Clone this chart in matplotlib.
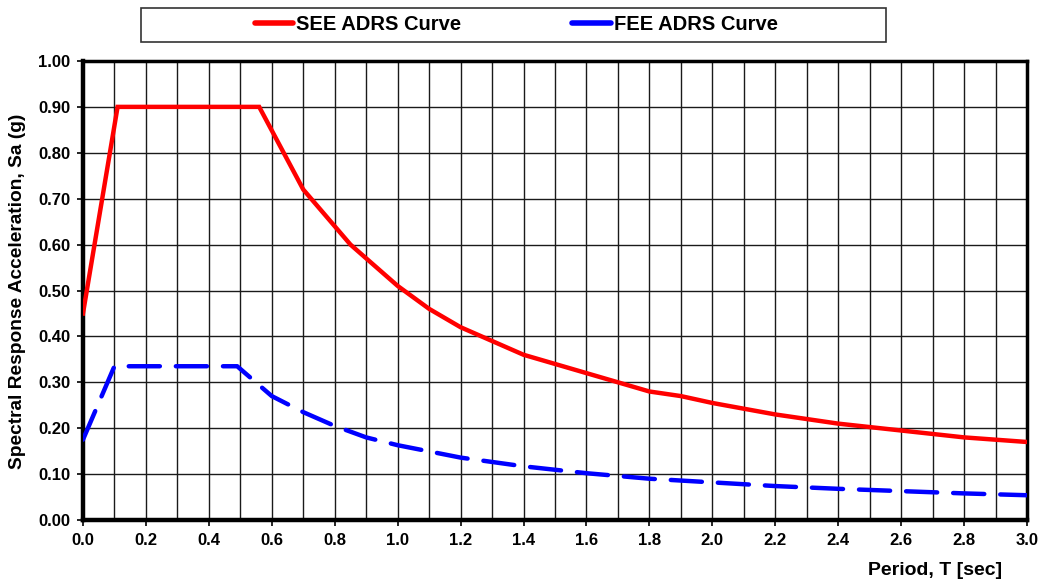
import matplotlib
matplotlib.use("Agg")
import matplotlib.pyplot as plt
from matplotlib.patches import Rectangle
from matplotlib.lines import Line2D
import numpy as np

plt.rcParams['font.family'] = ['Liberation Sans', 'DejaVu Sans']
plt.rcParams['font.weight'] = 'bold'

# SEE ADRS curve
see_T = [0.0, 0.11, 0.56, 0.70, 0.85, 1.0, 1.1, 1.2, 1.3, 1.4, 1.5, 1.6, 1.7, 1.8, 1.9, 2.0, 2.2, 2.4, 2.6, 2.8, 3.0]
see_Sa = [0.45, 0.90, 0.90, 0.72, 0.60, 0.51, 0.46, 0.42, 0.39, 0.36, 0.34, 0.32, 0.30, 0.28, 0.27, 0.255, 0.23, 0.21, 0.195, 0.18, 0.17]

# FEE ADRS curve
fee_T = [0.0, 0.10, 0.49, 0.60, 0.70, 0.80, 0.90, 1.0, 1.2, 1.4, 1.6, 1.8, 2.0, 2.2, 2.4, 2.6, 2.8, 3.0]
fee_Sa = [0.175, 0.335, 0.335, 0.27, 0.235, 0.205, 0.18, 0.163, 0.136, 0.117, 0.102, 0.09, 0.082, 0.074, 0.068, 0.063, 0.058, 0.054]

xticks = [0.0, 0.2, 0.4, 0.6, 0.8, 1.0, 1.2, 1.4, 1.6, 1.8, 2.0, 2.2, 2.4, 2.6, 2.8, 3.0]
yticks = [0.0, 0.1, 0.2, 0.3, 0.4, 0.5, 0.6, 0.7, 0.8, 0.9, 1.0]

fig = plt.figure(figsize=(10.41, 5.88), dpi=100)
ax = fig.add_axes([0.0797, 0.1156, 0.9069, 0.7807])

ax.plot(see_T, see_Sa, color='#ff0000', lw=3.2, solid_joinstyle='miter', zorder=3)
ax.plot(fee_T, fee_Sa, color='#0000ff', lw=3.2, dashes=(7, 3.6), dash_capstyle='round', zorder=3)

ax.set_xlim(0, 3.0)
ax.set_ylim(0, 1.0)
ax.set_xticks(xticks)
ax.set_xticklabels([f"{v:.1f}" for v in xticks])
ax.set_xticks(np.arange(1, 30, 2) / 10.0, minor=True)
ax.set_yticks(yticks)
ax.set_yticklabels([f"{v:.2f}" for v in yticks])
ax.grid(True, which='both', axis='x', color='#1a1a1a', lw=1.0)
ax.grid(True, which='major', axis='y', color='#1a1a1a', lw=1.0)
ax.tick_params(axis='both', which='major', labelsize=12, length=4, width=1.2, direction='out', pad=5)
ax.tick_params(axis='x', which='minor', length=0)
for lbl in ax.get_xticklabels() + ax.get_yticklabels():
    lbl.set_fontweight('bold')
for s in ax.spines.values():
    s.set_linewidth(2.5)
    s.set_color('black')
ax.spines['left'].set_linewidth(3.2)
ax.spines['bottom'].set_linewidth(3.2)

fig.text(0.017, 0.505, 'Spectral Response Acceleration, Sa (g)', rotation=90, ha='center', va='center',
         fontsize=13.8, fontweight='bold')
fig.text(0.9625, 0.016, 'Period, T [sec]', ha='right', va='bottom', fontsize=14, fontweight='bold')

# legend box
fig.add_artist(Rectangle((0.1354, 0.9286), 0.7157, 0.0578, transform=fig.transFigure,
                         facecolor='white', edgecolor='#333333', lw=1.2))
h1 = Line2D([], [], color='#ff0000', lw=4.0, solid_capstyle='round')
h2 = Line2D([], [], color='#0000ff', lw=4.0, solid_capstyle='round')
fig.legend(handles=[h1, h2], labels=['SEE ADRS Curve', 'FEE ADRS Curve'], loc='center',
           bbox_to_anchor=(0.496, 0.9575), ncol=2,
           frameon=False, prop={'size': 14.5, 'weight': 'bold'}, handlelength=1.9, handletextpad=0.15,
           columnspacing=5.5)

fig.savefig('out.png', dpi=100)
